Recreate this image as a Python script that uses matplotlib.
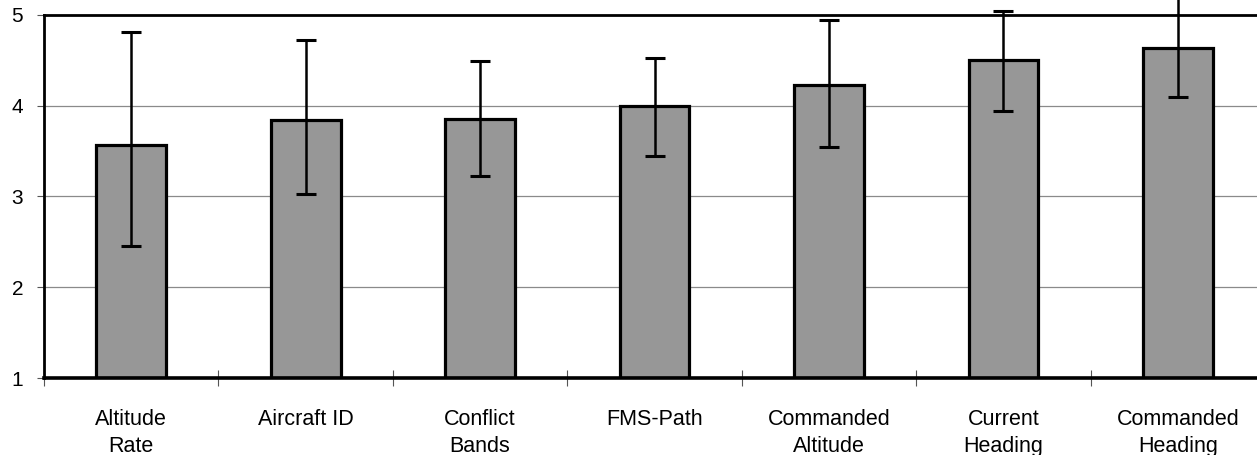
import matplotlib

matplotlib.use("Agg")
import matplotlib.pyplot as plt
import numpy as np

# ratings (1-5 scale)
CATEGORIES = [
    "Altitude\nRate",
    "Aircraft ID",
    "Conflict\nBands",
    "FMS-Path",
    "Commanded\nAltitude",
    "Current\nHeading",
    "Commanded\nHeading",
]
MEANS = [3.57, 3.84, 3.85, 4.00, 4.23, 4.50, 4.64]
ERR_HIGH = [4.81, 4.72, 4.49, 4.52, 4.94, 5.04, 5.24]
ERR_LOW = [2.45, 3.03, 3.22, 3.45, 3.54, 3.94, 4.10]
Y_TICKS = [1, 2, 3, 4, 5]

plt.rcParams["font.family"] = ["Liberation Sans", "DejaVu Sans"]

fig = plt.figure(figsize=(12.57, 4.55), dpi=100)
ax = fig.add_axes([0.035, 0.1692, 0.9714, 0.798])

x = np.arange(len(CATEGORIES))
means = np.array(MEANS)
yerr = np.vstack([means - np.array(ERR_LOW), np.array(ERR_HIGH) - means])

ax.bar(x, means - 1, bottom=1, width=0.4, color="#979797",
       edgecolor="black", linewidth=2.3, zorder=2)
ax.errorbar(x, means, yerr=yerr, fmt="none", ecolor="black",
            elinewidth=1.8, capsize=7.5, capthick=2.2, zorder=3, clip_on=False)

ax.set_xlim(-0.5, len(CATEGORIES) - 0.5)
ax.set_ylim(1, 5)

ax.set_yticks(Y_TICKS)
ax.set_yticklabels([str(v) for v in Y_TICKS], fontsize=15)
for v in Y_TICKS[1:-1]:
    ax.axhline(v, color="#8a8a8a", linewidth=0.9, zorder=1)

ax.set_xticks(x)
ax.set_xticklabels(CATEGORIES, fontsize=15.5, linespacing=1.38)
ax.set_xticks(np.arange(-0.5, len(CATEGORIES)), minor=True)
ax.tick_params(axis="x", which="major", length=0, pad=22)
ax.tick_params(axis="x", which="minor", length=12, direction="inout",
               width=0.8, color="#555555")
ax.tick_params(axis="y", length=5, width=0.8, color="#555555", pad=10)

for side in ["left", "top", "right"]:
    ax.spines[side].set_linewidth(2.0)
ax.spines["bottom"].set_linewidth(2.6)
for sp in ax.spines.values():
    sp.set_zorder(4)

fig.savefig("out.png", dpi=100)
